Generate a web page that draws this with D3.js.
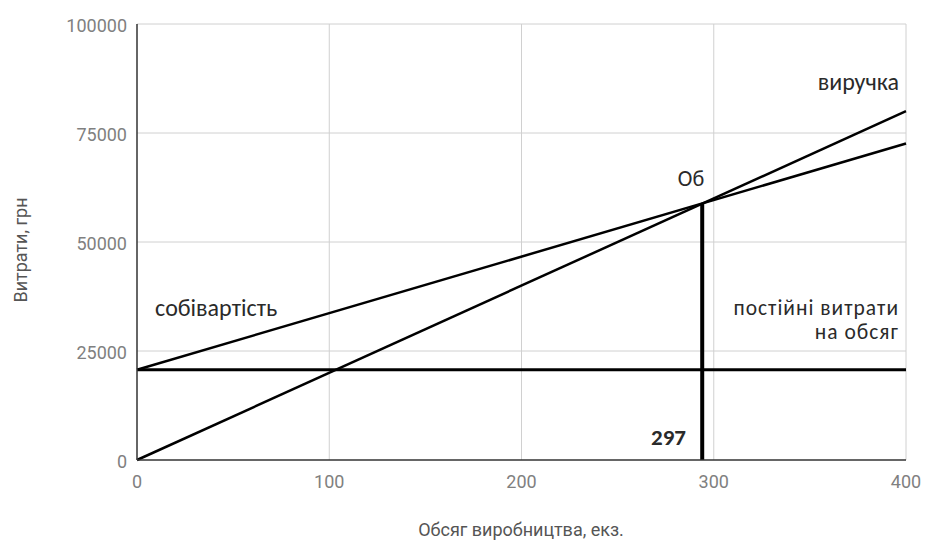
<!DOCTYPE html>
<html><head><meta charset="utf-8">
<script src="https://cdn.jsdelivr.net/npm/d3@7"></script>
<style>body{margin:0;background:#fff}</style>
</head><body>
<svg id="c" width="925" height="544"></svg>
<script>
const xVals = [0, 400];
const revenue = [0, 80000];
const cost = [20700, 72600];
const fixedCost = [20700, 20700];
const breakEven = {x: 294, y: 58800};
const breakEvenLabel = "297";
const xTicks = [0, 100, 200, 300, 400];
const yTicks = [0, 25000, 50000, 75000, 100000];
const labels = {
  revenue: "виручка", cost: "собівартість", point: "Об",
  fixed1: "постійні витрати", fixed2: "на обсяг",
  xTitle: "Обсяг виробництва, екз.", yTitle: "Витрати, грн"
};

const svg = d3.select("#c");
const x = d3.scaleLinear().domain([0, 400]).range([137, 906]);
const y = d3.scaleLinear().domain([0, 100000]).range([460, 24]);

// grid
svg.append("g").selectAll("line").data(yTicks.filter(d => d > 0)).join("line")
  .attr("x1", x(0)).attr("x2", x(400)).attr("y1", d => y(d)).attr("y2", d => y(d))
  .attr("stroke", "#d0d0d0").attr("stroke-width", 1);
svg.append("g").selectAll("line").data(xTicks.filter(d => d > 0)).join("line")
  .attr("y1", y(0)).attr("y2", y(100000)).attr("x1", d => x(d)).attr("x2", d => x(d))
  .attr("stroke", "#d0d0d0").attr("stroke-width", 1);

// tick labels
const tickFont = "Roboto, sans-serif";
svg.append("g").selectAll("text").data(yTicks).join("text")
  .attr("x", 127).attr("y", d => y(d) + 2).attr("dy", "0.35em")
  .attr("text-anchor", "end").attr("font-family", tickFont).attr("font-size", 18)
  .attr("fill", "#808080").text(d => d);
svg.append("g").selectAll("text").data(xTicks).join("text")
  .attr("x", d => x(d)).attr("y", 482).attr("dy", "0.35em")
  .attr("text-anchor", "middle").attr("font-family", tickFont).attr("font-size", 18)
  .attr("fill", "#808080").text(d => d);

// axis titles
svg.append("text").attr("x", 521).attr("y", 536)
  .attr("text-anchor", "middle").attr("font-family", tickFont).attr("font-size", 18)
  .attr("fill", "#555").text(labels.xTitle);
svg.append("text").attr("transform", "translate(21,250) rotate(-90)")
  .attr("dy", "0.35em").attr("text-anchor", "middle").attr("font-family", tickFont)
  .attr("font-size", 18).attr("fill", "#555").text(labels.yTitle);

// lines
const line = d3.line().x(d => x(d[0])).y(d => y(d[1]));
const mk = arr => xVals.map((v, i) => [v, arr[i]]);
svg.append("path").datum(mk(fixedCost)).attr("d", line).attr("fill", "none")
  .attr("stroke", "#000").attr("stroke-width", 3);
svg.append("path").datum(mk(cost)).attr("d", line).attr("fill", "none")
  .attr("stroke", "#000").attr("stroke-width", 2.5);
svg.append("path").datum(mk(revenue)).attr("d", line).attr("fill", "none")
  .attr("stroke", "#000").attr("stroke-width", 2.5);
svg.append("line").attr("x1", x(breakEven.x)).attr("x2", x(breakEven.x))
  .attr("y1", y(0)).attr("y2", y(breakEven.y)).attr("stroke", "#000").attr("stroke-width", 4);

// axes lines
svg.append("line").attr("x1", x(0)).attr("x2", x(0)).attr("y1", y(100000)).attr("y2", y(0))
  .attr("stroke", "#333").attr("stroke-width", 1.5);
svg.append("line").attr("x1", x(0)).attr("x2", x(400)).attr("y1", y(0)).attr("y2", y(0))
  .attr("stroke", "#333").attr("stroke-width", 1.5);

// annotations
const annFont = "Carlito, 'Liberation Sans', 'DejaVu Sans', sans-serif";
function ann(t, xx, yy, anchor, size, bold, ls) {
  svg.append("text").attr("x", xx).attr("y", yy).attr("text-anchor", anchor)
    .attr("font-family", annFont).attr("font-size", size).attr("fill", "#2a2a2a")
    .attr("letter-spacing", ls || 0)
    .attr("font-weight", bold ? "bold" : "normal").text(t);
}
ann(labels.cost, 155, 316, "start", 24);
ann(labels.revenue, 899, 90, "end", 24);
ann(labels.point, 691, 186, "middle", 22);
ann(labels.fixed1, 899, 315, "end", 21.5, false, 1);
ann(labels.fixed2, 899, 339, "end", 21.5, false, 1);
ann(breakEvenLabel, 686, 445, "end", 23, true);
</script>
</body></html>
